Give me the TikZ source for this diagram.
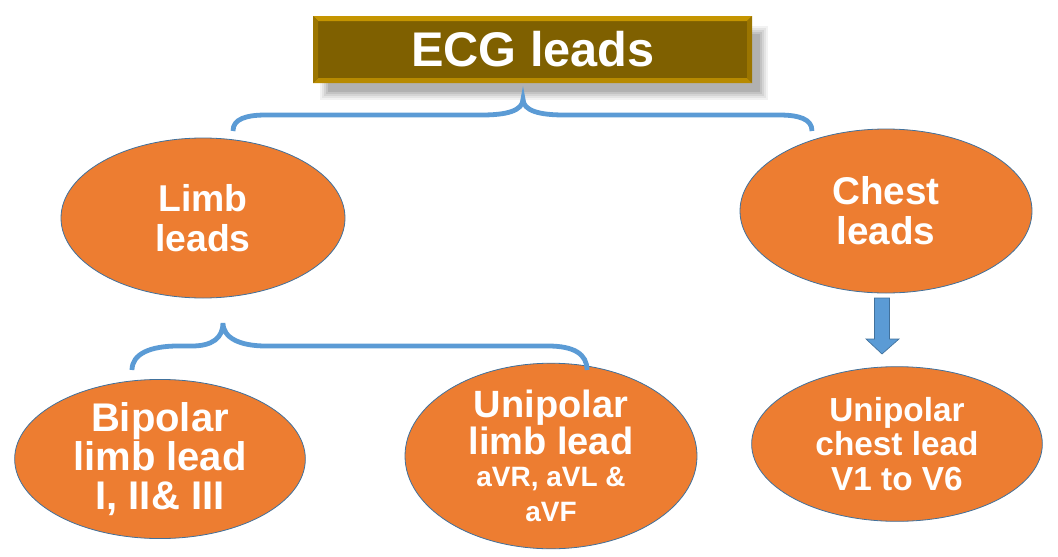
\documentclass[tikz,border=0pt]{standalone}
\usepackage{fontspec}
\setmainfont{Liberation Sans}
\usetikzlibrary{shapes.geometric}
\definecolor{ecgorange}{HTML}{ED7D31}
\definecolor{ecgedge}{HTML}{41719C}
\definecolor{ecgblue}{HTML}{5B9BD5}
\definecolor{ecggold}{HTML}{7F6000}
\definecolor{ecgbevel}{HTML}{C59500}
\tikzset{
  leadoval/.style={ellipse, fill=ecgorange, draw=ecgedge, line width=0.6pt, inner sep=0pt,
     text=white, align=center, font=\bfseries\fontsize{23}{29}\selectfont},
  brace/.style={draw=ecgblue, line width=3.6pt},
  blockarrow/.style={fill=ecgblue, draw=ecgedge, line width=0.5pt},
}
\begin{document}
\begin{tikzpicture}[x=0.75pt,y=-0.75pt]
\useasboundingbox (0,0) rectangle (1058,557);
% title shadow
\foreach \i/\o in {0/0.05,2/0.06,4/0.07,6/0.08,8/0.09}{
  \fill[black,opacity=\o] (320+\i,26+\i) rectangle (768-\i,100-\i);
}
% title box
\node[rectangle, fill=ecggold, draw=ecgbevel!70!ecggold, line width=0.6pt, minimum width=329pt, minimum height=50pt, inner sep=0pt] (title) at (532.5,49.5) {};
\fill[ecgbevel] (313,16) -- (752,16) -- (747,21) -- (318,21) -- cycle;
\fill[ecgbevel!80!ecggold] (313,83) -- (752,83) -- (747,78) -- (318,78) -- cycle;
\fill[ecgbevel!40!ecggold] (313,16) -- (318,21) -- (318,78) -- (313,83) -- cycle;
\fill[ecgbevel!40!ecggold] (752,16) -- (747,21) -- (747,78) -- (752,83) -- cycle;
\node[text=white, font=\bfseries\fontsize{36.5}{40}\selectfont] (titletext) at (533,49) {ECG leads};
% ellipses
\node[leadoval, minimum width=213pt, minimum height=120pt, font=\bfseries\fontsize{28}{30}\selectfont] (limb) at (203,218) {Limb\\leads};
\node[leadoval, minimum width=219pt, minimum height=123pt, font=\bfseries\fontsize{29}{30}\selectfont] (chest) at (886,211) {Chest\\leads};
\node[leadoval, minimum width=218pt, minimum height=114pt, font=\bfseries\fontsize{30}{29}\selectfont] (bipolar) at (160,459) {Bipolar\\limb lead\\I, II\& III};
\node[leadoval, minimum width=219pt, minimum height=114pt, font=\bfseries\fontsize{28.5}{26}\selectfont] (unilimb) at (551,456)
  {Unipolar\\limb lead\\[-2pt]\fontsize{21}{22}\selectfont aVR, aVL \&\\\fontsize{21}{22}\selectfont aVF};
\node[leadoval, minimum width=218pt, minimum height=116pt, font=\bfseries\fontsize{25}{26}\selectfont] (unichest) at (897,444) {Unipolar\\chest lead\\V1 to V6};
% braces
\coordinate (tl) at (233,131);
\coordinate (tp) at (523,99);
\coordinate (tr) at (812,131);
\draw[brace] (tl) .. controls (233,119) and (246,115) .. (266,115) -- (482,115)
  .. controls (506,115) and (523,111) .. (tp)
  .. controls (523,111) and (540,115) .. (564,115) -- (779,115)
  .. controls (799,115) and (812,119) .. (tr);
\coordinate (bl) at (132,370);
\coordinate (bp) at (223,323);
\coordinate (br) at (587,370);
\draw[brace] (bl) .. controls (132,354) and (150,346) .. (178,346) -- (192,346)
  .. controls (212,346) and (223,338) .. (bp)
  .. controls (223,338) and (240,346) .. (266,346) -- (548,346)
  .. controls (574,346) and (587,354) .. (br);
% arrow from chest leads to unipolar chest lead
\coordinate (atop) at (882,298);
\coordinate (atip) at (882,354);
\draw[blockarrow] (atop) ++(-7.5,0) -- ++(15,0) -- (889.5,339) -- (899,339) -- (atip) -- (866,339) -- (874.5,339) -- cycle;
\end{tikzpicture}
\end{document}
